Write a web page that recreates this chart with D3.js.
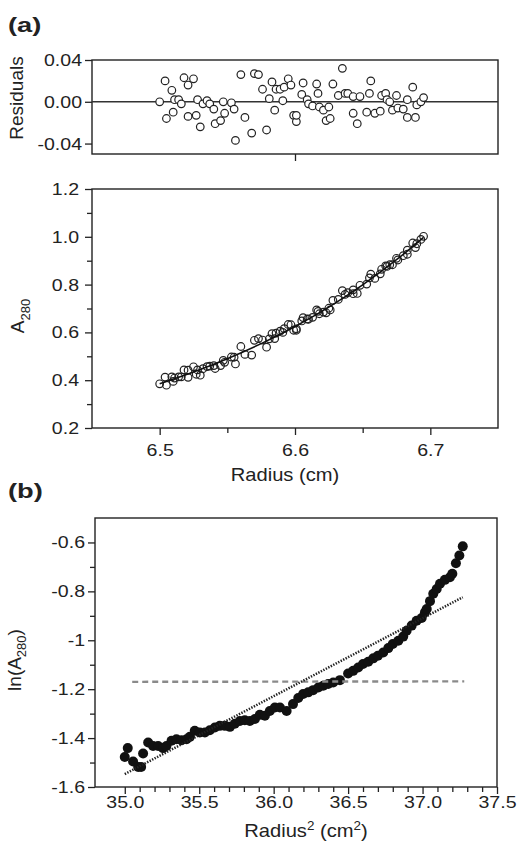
<!DOCTYPE html>
<html>
<head>
<meta charset="utf-8">
<script src="https://cdn.jsdelivr.net/npm/d3@7"></script>
<style>
  body { margin: 0; background: #fff; }
  text { font-family: "Liberation Sans", Arial, sans-serif; fill: #222; }
</style>
</head>
<body>
<script>
// ---- panel (a): radius positions shared by residuals and A280 ----
const radius = [6.500, 6.504, 6.505, 6.509, 6.510, 6.511, 6.514, 6.516, 6.518, 6.521, 6.521, 6.525, 6.527, 6.528,
  6.530, 6.532, 6.535, 6.537, 6.540, 6.541, 6.545, 6.547, 6.548, 6.553, 6.555, 6.556, 6.560, 6.563, 6.568, 6.570,
  6.573, 6.576, 6.579, 6.581, 6.583, 6.585, 6.586, 6.589, 6.591, 6.592, 6.595, 6.597, 6.599, 6.601, 6.601, 6.605,
  6.606, 6.609, 6.610, 6.613, 6.616, 6.617, 6.618, 6.621, 6.623, 6.625, 6.626, 6.628, 6.632, 6.635, 6.637, 6.639,
  6.643, 6.643, 6.646, 6.648, 6.653, 6.655, 6.656, 6.659, 6.663, 6.664, 6.667, 6.668, 6.670, 6.672, 6.675, 6.676,
  6.680, 6.683, 6.683, 6.687, 6.689, 6.690, 6.693, 6.695];

const residual = [0.000, 0.020, -0.016, 0.011, -0.010, 0.002, 0.002, -0.002, 0.023, 0.016, -0.014, 0.022, -0.013, 0.002,
  -0.024, -0.002, 0.001, -0.002, -0.007, -0.021, -0.018, 0.000, -0.011, -0.001, -0.007, -0.037, 0.026, -0.015, -0.030, 0.027,
  0.026, 0.012, -0.027, 0.003, 0.019, -0.008, 0.012, 0.012, 0.001, 0.014, 0.022, 0.016, -0.013, -0.019, -0.013, 0.007,
  0.018, 0.002, -0.002, -0.004, 0.017, 0.008, -0.005, -0.008, -0.018, -0.005, -0.016, 0.017, 0.006, 0.032, 0.008, 0.008,
  -0.011, 0.005, -0.021, 0.005, -0.010, 0.008, 0.020, -0.011, -0.009, 0.006, 0.008, 0.002, 0.000, -0.008, 0.006, -0.006,
  -0.007, -0.015, 0.002, 0.014, -0.015, -0.003, 0.000, 0.004];

const a280 = [0.385, 0.413, 0.379, 0.414, 0.395, 0.409, 0.414, 0.414, 0.443, 0.442, 0.412, 0.456, 0.425, 0.443,
  0.421, 0.448, 0.457, 0.459, 0.461, 0.449, 0.461, 0.483, 0.475, 0.497, 0.496, 0.468, 0.541, 0.508, 0.505, 0.567,
  0.574, 0.568, 0.538, 0.573, 0.595, 0.574, 0.597, 0.605, 0.600, 0.616, 0.633, 0.632, 0.609, 0.609, 0.615, 0.648,
  0.662, 0.656, 0.655, 0.663, 0.694, 0.688, 0.678, 0.685, 0.682, 0.701, 0.694, 0.734, 0.738, 0.775, 0.759, 0.766,
  0.762, 0.778, 0.763, 0.797, 0.802, 0.828, 0.844, 0.826, 0.845, 0.864, 0.878, 0.876, 0.883, 0.883, 0.910, 0.903,
  0.921, 0.927, 0.944, 0.974, 0.955, 0.971, 0.989, 1.002];

// fitted curve through A280
const fitRadius = [6.500, 6.525, 6.550, 6.575, 6.600, 6.625, 6.650, 6.675, 6.695];
const fitA280 = [0.385, 0.434, 0.490, 0.553, 0.625, 0.706, 0.799, 0.904, 0.998];

// ---- panel (b): ln(A280) vs radius^2 ----
const radius2 = [35.000, 35.020, 35.056, 35.090, 35.110, 35.123, 35.157, 35.190, 35.224, 35.257, 35.280, 35.314,
  35.347, 35.381, 35.415, 35.437, 35.470, 35.504, 35.538, 35.571, 35.605, 35.638, 35.672, 35.706, 35.739, 35.773,
  35.806, 35.840, 35.874, 35.907, 35.941, 35.974, 36.008, 36.042, 36.087, 36.130, 36.165, 36.198, 36.232, 36.265,
  36.300, 36.333, 36.366, 36.400, 36.445, 36.500, 36.534, 36.568, 36.600, 36.635, 36.669, 36.700, 36.736, 36.770,
  36.800, 36.837, 36.870, 36.893, 36.927, 36.960, 36.994, 37.016, 37.028, 37.050, 37.072, 37.095, 37.117, 37.150,
  37.184, 37.200, 37.224, 37.247, 37.270];
const lnA280 = [-1.477, -1.441, -1.496, -1.518, -1.518, -1.463, -1.418, -1.432, -1.432, -1.441, -1.432, -1.411,
  -1.405, -1.409, -1.405, -1.395, -1.370, -1.377, -1.377, -1.368, -1.357, -1.350, -1.350, -1.354, -1.341, -1.330,
  -1.327, -1.330, -1.322, -1.305, -1.309, -1.289, -1.275, -1.275, -1.289, -1.261, -1.236, -1.220, -1.213, -1.204,
  -1.193, -1.186, -1.179, -1.173, -1.163, -1.136, -1.125, -1.111, -1.097, -1.088, -1.074, -1.063, -1.050, -1.032,
  -1.015, -1.002, -0.985, -0.961, -0.940, -0.920, -0.909, -0.886, -0.872, -0.840, -0.810, -0.790, -0.769, -0.753,
  -0.742, -0.728, -0.685, -0.653, -0.616];

// straight-line fit (dotted) and flat line (dashed)
const lineFitR2 = [35.00, 37.27];
const lineFitLn = [-1.547, -0.824];
const flatR2 = [35.05, 37.28];
const flatLn = [-1.170, -1.168];

// ---- tick values ----
const resTicks = [-0.04, 0.00, 0.04];
const absTicks = [0.2, 0.4, 0.6, 0.8, 1.0, 1.2];
const absMinor = [0.3, 0.5, 0.7, 0.9, 1.1];
const radTicks = [6.5, 6.6, 6.7];
const radMinor = [6.55, 6.65];
const lnTicks = [-1.6, -1.4, -1.2, -1.0, -0.8, -0.6];
const lnMinor = [-1.5, -1.3, -1.1, -0.9, -0.7];
const r2Ticks = [35.0, 35.5, 36.0, 36.5, 37.0, 37.5];
const r2Minor = [35.1, 35.2, 35.3, 35.4, 35.6, 35.7, 35.8, 35.9, 36.1, 36.2, 36.3, 36.4,
  36.6, 36.7, 36.8, 36.9, 37.1, 37.2, 37.3, 37.4];

const [W, H] = [519, 846];
const ink = '#222';
const sx = 1.15;   // glyphs in the figure are a bit wide

const svg = d3.select('body').append('svg')
  .attr('width', W)
  .attr('height', H);

// scales
const xA = d3.scaleLinear().domain([6.45, 6.75]).range([92, 498]);
const yRes = d3.scaleLinear().domain([-0.05, 0.04]).range([154, 60]);
const yAbs = d3.scaleLinear().domain([0.2, 1.2]).range([428, 189]);
const xB = d3.scaleLinear().domain([34.8, 37.5]).range([95, 497]);
const yB = d3.scaleLinear().domain([-1.6, -0.5]).range([787, 518]);

const hy = s => s.replace('\u2212', '-');

function frame(x, y) {
  svg.append('rect')
    .attr('x', x.range()[0]).attr('y', y.range()[1])
    .attr('width', x.range()[1] - x.range()[0])
    .attr('height', y.range()[0] - y.range()[1])
    .attr('fill', 'none').attr('stroke', ink).attr('stroke-width', 1.4);
}

function leftAxis(x0, y, major, minor, fmt, gap) {
  if (minor.length) {
    const m = svg.append('g').attr('transform', `translate(${x0},0)`)
      .call(d3.axisLeft(y).tickValues(minor).tickSize(5).tickSizeOuter(0).tickFormat(''));
    m.select('.domain').remove();
    m.selectAll('line').attr('stroke', ink).attr('stroke-width', 1.3);
  }
  const g = svg.append('g').attr('transform', `translate(${x0},0)`)
    .call(d3.axisLeft(y).tickValues(major).tickSize(7).tickSizeOuter(0).tickFormat(fmt));
  g.select('.domain').remove();
  g.attr('font-size', null).attr('font-family', null);
  g.selectAll('line').attr('stroke', ink).attr('stroke-width', 1.3);
  g.selectAll('text')
    .attr('font-size', 17)
    .attr('x', -gap / sx)
    .attr('transform', `scale(${sx},1)`);
}

function bottomAxis(y0, x, major, minor, fmt, top) {
  if (minor.length) {
    const m = svg.append('g').attr('transform', `translate(0,${y0})`)
      .call(d3.axisBottom(x).tickValues(minor).tickSize(5).tickSizeOuter(0).tickFormat(''));
    m.select('.domain').remove();
    m.selectAll('line').attr('stroke', ink).attr('stroke-width', 1.3);
  }
  const g = svg.append('g').attr('transform', `translate(0,${y0})`)
    .call(d3.axisBottom(x).tickValues(major).tickSize(7).tickSizeOuter(0).tickFormat(fmt));
  g.select('.domain').remove();
  g.attr('font-size', null).attr('font-family', null);
  g.selectAll('line').attr('stroke', ink).attr('stroke-width', 1.3);
  g.selectAll('text')
    .attr('font-size', 17)
    .attr('y', top)
    .attr('transform', `scale(${sx},1)`);
}

// ================= panel (a) residuals =================
frame(xA, yRes);
svg.append('line')
  .attr('x1', xA.range()[0]).attr('x2', xA.range()[1])
  .attr('y1', yRes(0)).attr('y2', yRes(0))
  .attr('stroke', '#333').attr('stroke-width', 1.4);
leftAxis(92, yRes, resTicks, [], d => hy(d3.format('.2f')(d)), 10);
// lone tick under the residual frame
bottomAxis(154, xA, [6.6], [], '', 0);

svg.append('g').selectAll('circle')
  .data(radius)
  .join('circle')
  .attr('cx', d => xA(d))
  .attr('cy', (d, i) => yRes(residual[i]))
  .attr('r', 3.8)
  .attr('fill', '#fff')
  .attr('stroke', ink)
  .attr('stroke-width', 1.2);

// ================= panel (a) A280 =================
frame(xA, yAbs);
leftAxis(92, yAbs, absTicks, absMinor, d3.format('.1f'), 13);
bottomAxis(428, xA, radTicks, radMinor, d3.format('.1f'), 16);

svg.append('g').selectAll('circle')
  .data(radius)
  .join('circle')
  .attr('cx', d => xA(d))
  .attr('cy', (d, i) => yAbs(a280[i]))
  .attr('r', 3.8)
  .attr('fill', 'none')
  .attr('stroke', ink)
  .attr('stroke-width', 1.2);

svg.append('path')
  .datum(fitRadius)
  .attr('fill', 'none')
  .attr('stroke', '#111')
  .attr('stroke-width', 1.6)
  .attr('d', d3.line().x(d => xA(d)).y((d, i) => yAbs(fitA280[i])).curve(d3.curveMonotoneX));

// ================= panel (b) =================
frame(xB, yB);
leftAxis(95, yB, lnTicks, lnMinor, d => hy(String(+d.toFixed(1))), 10);
bottomAxis(787, xB, r2Ticks, r2Minor, d3.format('.1f'), 9);

svg.append('g').selectAll('circle')
  .data(radius2)
  .join('circle')
  .attr('cx', d => xB(d))
  .attr('cy', (d, i) => yB(lnA280[i]))
  .attr('r', 5)
  .attr('fill', '#111');

svg.append('line')
  .attr('x1', xB(flatR2[0])).attr('x2', xB(flatR2[1]))
  .attr('y1', yB(flatLn[0])).attr('y2', yB(flatLn[1]))
  .attr('stroke', '#8a8a8a').attr('stroke-width', 2.4)
  .attr('stroke-dasharray', '6,4');

svg.append('line')
  .attr('x1', xB(lineFitR2[0])).attr('x2', xB(lineFitR2[1]))
  .attr('y1', yB(lineFitLn[0])).attr('y2', yB(lineFitLn[1]))
  .attr('stroke', '#222').attr('stroke-width', 2.5)
  .attr('stroke-dasharray', '1.4,1.4');

// ================= texts =================
function htext(x, y, size, sxx) {
  return svg.append('text')
    .attr('transform', `translate(${x},${y}) scale(${sxx},1)`)
    .attr('font-size', size);
}

htext(8, 32, 21, 1.3).attr('font-weight', 'bold').text('(a)');
htext(8, 498, 21, 1.3).attr('font-weight', 'bold').text('(b)');

htext(285, 481, 18, 1.12).attr('text-anchor', 'middle').text('Radius (cm)');
const r2t = htext(306, 837, 18, 1.12).attr('text-anchor', 'middle');
r2t.append('tspan').text('Radius');
r2t.append('tspan').attr('font-size', 12).attr('dy', -7).text('2');
r2t.append('tspan').attr('dy', 7).text(' (cm');
r2t.append('tspan').attr('font-size', 12).attr('dy', -7).text('2');
r2t.append('tspan').attr('dy', 7).text(')');

function vtext(x, y, size) {
  return svg.append('text')
    .attr('transform', `translate(${x},${y}) rotate(-90)`)
    .attr('text-anchor', 'middle')
    .attr('font-size', size);
}

vtext(23, 98, 19).text('Residuals');
const at = vtext(24, 316, 19);
at.append('tspan').text('A');
at.append('tspan').attr('font-size', 13).attr('dy', 6).text('280');
const lt = vtext(21, 660, 19);
lt.append('tspan').text('ln(A');
lt.append('tspan').attr('font-size', 13).attr('dy', 5).text('280');
lt.append('tspan').attr('dy', -5).text(')');
</script>
</body>
</html>
